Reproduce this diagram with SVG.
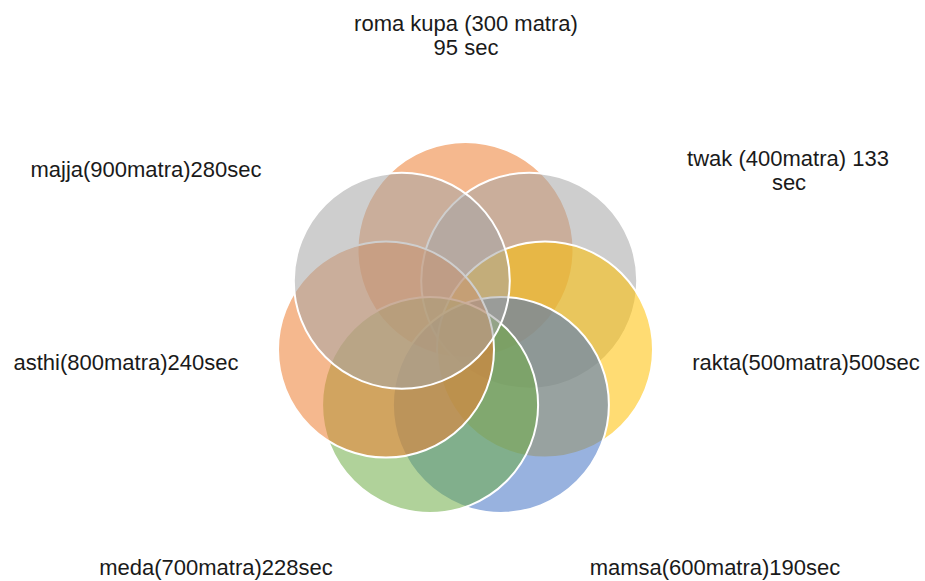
<svg xmlns="http://www.w3.org/2000/svg" width="925" height="581" viewBox="0 0 925 581">
  <style>
    .ring { stroke: #ffffff; stroke-width: 2; fill-opacity: 0.55; }
    .lbl { font-family: "Liberation Sans", Arial, sans-serif; font-size: 22px; fill: #1a1a1a; text-anchor: middle; }
  </style>
  <rect width="925" height="581" fill="#ffffff"/>

  <!-- seven overlapping circles placed on a ring, drawn clockwise from the top -->
  <g id="roma-kupa">
    <circle class="ring" cx="465.5" cy="250" r="108" fill="#ED7D31"/>
    <text class="lbl" x="466" y="31">roma kupa (300 matra)</text>
    <text class="lbl" x="466" y="55">95 sec</text>
  </g>
  <g id="twak">
    <circle class="ring" cx="529.2" cy="280.7" r="108" fill="#A5A5A5"/>
    <text class="lbl" x="788" y="166">twak (400matra) 133</text>
    <text class="lbl" x="789" y="190">sec</text>
  </g>
  <g id="rakta">
    <circle class="ring" cx="545" cy="349.6" r="108" fill="#FFC000"/>
    <text class="lbl" x="806" y="370">rakta(500matra)500sec</text>
  </g>
  <g id="mamsa">
    <circle class="ring" cx="500.9" cy="404.9" r="108" fill="#4472C4"/>
    <text class="lbl" x="715" y="575">mamsa(600matra)190sec</text>
  </g>
  <g id="meda">
    <circle class="ring" cx="430.1" cy="404.9" r="108" fill="#70AD47"/>
    <text class="lbl" x="216" y="575">meda(700matra)228sec</text>
  </g>
  <g id="asthi">
    <circle class="ring" cx="386" cy="349.6" r="108" fill="#ED7D31"/>
    <text class="lbl" x="126" y="370">asthi(800matra)240sec</text>
  </g>
  <g id="majja">
    <circle class="ring" cx="401.8" cy="280.7" r="108" fill="#A5A5A5"/>
    <text class="lbl" x="146" y="177">majja(900matra)280sec</text>
  </g>

  <g id="connectors"></g>
</svg>
